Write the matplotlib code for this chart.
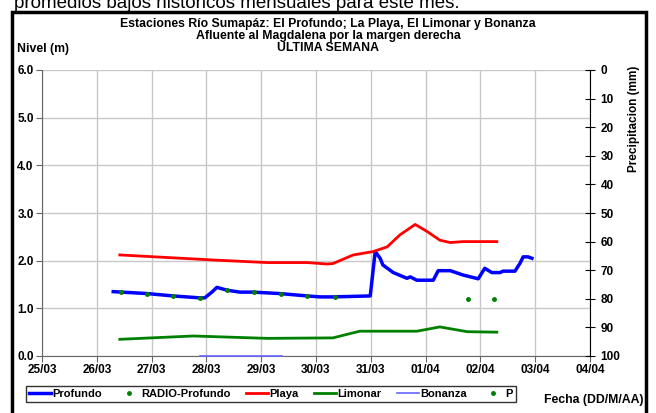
import matplotlib.pyplot as plt

# days since 25/03 (0 = 25/03 00:00)
profundo_x = [1.30, 1.92, 2.39, 2.88, 2.97, 3.10, 3.19, 3.38, 3.61, 3.85, 4.34, 4.84, 5.07, 5.31,
              5.99, 6.08, 6.17, 6.22, 6.41, 6.66, 6.72, 6.84, 7.14, 7.23, 7.45, 7.68, 7.96, 8.08,
              8.21, 8.36, 8.41, 8.63, 8.72, 8.78, 8.87, 8.94]
profundo_y = [1.35, 1.31, 1.26, 1.22, 1.22, 1.34, 1.44, 1.38, 1.34, 1.34, 1.31, 1.26, 1.24, 1.24,
              1.26, 2.19, 2.05, 1.91, 1.75, 1.63, 1.66, 1.59, 1.59, 1.79, 1.79, 1.70, 1.62, 1.84,
              1.75, 1.75, 1.78, 1.78, 1.94, 2.08, 2.08, 2.05]

radio_x = [1.44, 1.92, 2.39, 2.88, 3.38, 3.87, 4.36, 4.84, 5.35]
radio_y = [1.35, 1.31, 1.26, 1.22, 1.38, 1.34, 1.31, 1.26, 1.24]

playa_x = [1.42, 3.19, 4.11, 4.84, 5.20, 5.31, 5.68, 6.04, 6.30, 6.53, 6.81, 7.03, 7.26, 7.45, 7.68, 8.30]
playa_y = [2.12, 2.01, 1.96, 1.96, 1.93, 1.94, 2.12, 2.19, 2.29, 2.54, 2.76, 2.61, 2.43, 2.38, 2.40, 2.40]

limonar_x = [1.42, 2.76, 4.11, 5.31, 5.62, 5.80, 6.84, 7.26, 7.76, 8.30]
limonar_y = [0.35, 0.42, 0.37, 0.38, 0.47, 0.52, 0.52, 0.61, 0.51, 0.50]

bonanza_x = [2.88, 4.38]
bonanza_y = [0.0, 0.0]

p_x = [7.77, 8.25]
p_y = [80, 80]

date_labels = ['25/03', '26/03', '27/03', '28/03', '29/03', '30/03',
               '31/03', '01/04', '02/04', '03/04', '04/04']


def main():
    plt.rcParams['font.family'] = ['Liberation Sans', 'DejaVu Sans']
    fig = plt.figure(figsize=(6.56, 4.13), dpi=100)

    # outer frame
    fig.patches.append(plt.Rectangle((12 / 656, -0.05), 634 / 656, 1.05 - 12 / 413,
                                     transform=fig.transFigure, fill=False,
                                     edgecolor='black', linewidth=2.5))
    # line of page text cut by the top edge, as in the source
    fig.text(14 / 656, 1 - 8 / 413, 'promedios bajos históricos mensuales para este mes:',
             fontsize=13.5, va='baseline', ha='left')

    ax = fig.add_axes([42 / 656, 1 - 356 / 413, 548 / 656, 286 / 413])

    l1, = ax.plot(profundo_x, profundo_y, color='#0000ff', linewidth=2.5)
    l2, = ax.plot(radio_x, radio_y, 'o', color='#008000', markersize=2.5, linestyle='none')
    l3, = ax.plot(playa_x, playa_y, color='#ff0000', linewidth=2)
    l4, = ax.plot(limonar_x, limonar_y, color='#008000', linewidth=2)
    l5, = ax.plot(bonanza_x, bonanza_y, color='#6666ff', linewidth=1.2, clip_on=False, zorder=5)

    ax.set_xlim(0, 10)
    ax.set_ylim(0, 6)
    ax.set_xticks(range(11))
    ax.set_xticklabels(date_labels, fontsize=8.5, fontweight='bold')
    ax.set_yticks([0, 1, 2, 3, 4, 5, 6])
    ax.set_yticklabels(['%.1f' % v for v in range(7)], fontsize=8.5, fontweight='bold')
    ax.grid(True, color='#c8c8c8', linewidth=1)
    ax.set_axisbelow(True)
    for s in ['left', 'bottom']:
        ax.spines[s].set_color('#666666')
    ax.spines['top'].set_visible(False)
    ax.spines['right'].set_visible(False)
    ax.tick_params(length=4, color='#666666', pad=2)

    ax2 = ax.twinx()
    ax2.set_ylim(100, 0)
    ax2.set_yticks(range(0, 101, 10))
    ax2.set_yticklabels([str(v) for v in range(0, 101, 10)], fontsize=8.5, fontweight='bold')
    ax2.tick_params(axis='y', direction='inout', length=7, pad=4)
    l6, = ax2.plot(p_x, p_y, 'o', color='#008000', markersize=2.5, linestyle='none')
    for s in ['left', 'top', 'bottom']:
        ax2.spines[s].set_visible(False)
    ax2.set_ylabel('Precipitacion (mm)', fontsize=8.5, fontweight='bold')
    ax2.yaxis.set_label_coords(1.07, 0.83)

    fig.text(0.5, 1 - 24 / 413, 'Estaciones Río Sumapáz: El Profundo; La Playa, El Limonar y Bonanza',
             ha='center', va='center', fontsize=8.8, fontweight='bold')
    fig.text(0.5, 1 - 36 / 413, 'Afluente al Magdalena por la margen derecha',
             ha='center', va='center', fontsize=8.8, fontweight='bold')
    fig.text(0.5, 1 - 48 / 413, 'ULTIMA SEMANA',
             ha='center', va='center', fontsize=8.8, fontweight='bold')
    fig.text(17 / 656, 1 - 49 / 413, 'Nivel (m)', ha='left', va='center',
             fontsize=8.8, fontweight='bold')
    fig.text(643 / 656, 1 - 400 / 413, 'Fecha (DD/M/AA)', ha='right', va='center',
             fontsize=8.8, fontweight='bold')

    leg = fig.legend([l1, l2, l3, l4, l5, l6],
                     ['Profundo', 'RADIO-Profundo', 'Playa', 'Limonar', 'Bonanza', 'P'],
                     loc='center', bbox_to_anchor=(271 / 656, 1 - 394 / 413), ncol=6,
                     prop={'weight': 'bold', 'size': 8}, frameon=True, fancybox=False,
                     edgecolor='black', handlelength=2.0, handletextpad=0.1, columnspacing=1.4,
                     borderpad=0.3, borderaxespad=0)
    leg.get_frame().set_linewidth(1)

    plt.savefig('out.png', dpi=100)


if __name__ == '__main__':
    main()
